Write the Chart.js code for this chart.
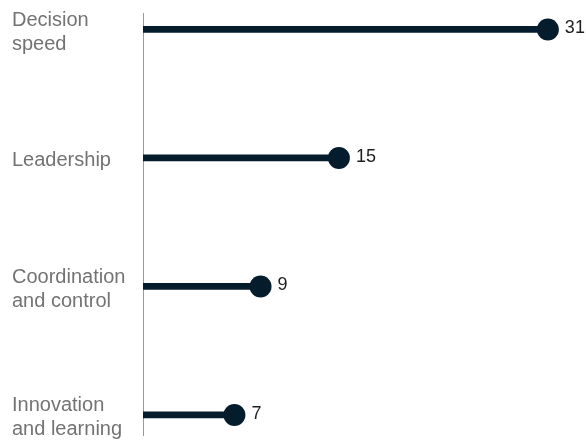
<!DOCTYPE html>
<html>
<head>
<meta charset="utf-8">
<script src="https://cdn.jsdelivr.net/npm/chart.js@4"></script>
<style>
  html, body { margin: 0; padding: 0; background: #fff; overflow: hidden; }
  #wrap { width: 586px; height: 445px; position: relative; }
</style>
</head>
<body>
<div id="wrap"><canvas id="chart_lollipop"></canvas></div>
<script>
// categories (two-line labels as arrays) and values
var categories = [
    ['Decision', 'speed'],
    ['Leadership'],
    ['Coordination', 'and control'],
    ['Innovation', 'and learning']
];
var values = [31, 15, 9, 7];

var navy = '#051c2c';

var points = values.map(function (v, i) { return { x: v, y: i }; });

var chart_lollipop = new Chart(document.getElementById('chart_lollipop'), {
    type: 'bar',
    data: {
        datasets: [
            {
                type: 'bar',
                label: 'stem',
                data: points,
                backgroundColor: navy,
                borderWidth: 0,
                barThickness: 6
            },
            {
                type: 'scatter',
                label: 'dot',
                data: points,
                pointRadius: 11,
                pointHoverRadius: 11,
                pointBackgroundColor: navy,
                pointBorderWidth: 0,
                showLine: false
            }
        ]
    },
    options: {
        indexAxis: 'y',
        animation: false,
        responsive: true,
        maintainAspectRatio: false,
        layout: {
            autoPadding: false,
            padding: { left: 12, top: 13, bottom: 10, right: 0 }
        },
        plugins: {
            legend: { display: false },
            tooltip: { enabled: false }
        },
        scales: {
            x: {
                type: 'linear',
                display: false,
                offset: false,
                min: 0,
                max: 33.92
            },
            y: {
                type: 'linear',
                reverse: true,
                offset: false,
                min: -0.128,
                max: 3.156,
                afterBuildTicks: function (scale) {
                    scale.ticks = categories.map(function (c, i) { return { value: i }; });
                },
                afterFit: function (scale) {
                    scale.width = 131;
                    scale.paddingTop = 0;
                    scale.paddingBottom = 0;
                },
                grid: { display: false, drawTicks: false },
                border: { display: true, color: '#9a9a9a', width: 1 },
                ticks: {
                    crossAlign: 'far',
                    padding: 0,
                    labelOffset: 3,
                    color: '#737373',
                    font: { family: "'Liberation Sans', Arial, sans-serif", size: 20, lineHeight: 1.2 },
                    callback: function (value) { return categories[value]; }
                }
            }
        }
    },
    plugins: [{
        id: 'valueLabels',
        afterDatasetsDraw: function (chart) {
            var ctx = chart.ctx;
            var meta = chart.getDatasetMeta(1);
            ctx.save();
            ctx.fillStyle = '#1e1e1e';
            ctx.font = "18px 'Liberation Sans', Arial, sans-serif";
            ctx.textAlign = 'left';
            ctx.textBaseline = 'middle';
            meta.data.forEach(function (el, i) {
                ctx.fillText(String(values[i]), el.x + 11 + 6, el.y - 1);
            });
            ctx.restore();
        }
    }]
});
</script>
</body>
</html>
